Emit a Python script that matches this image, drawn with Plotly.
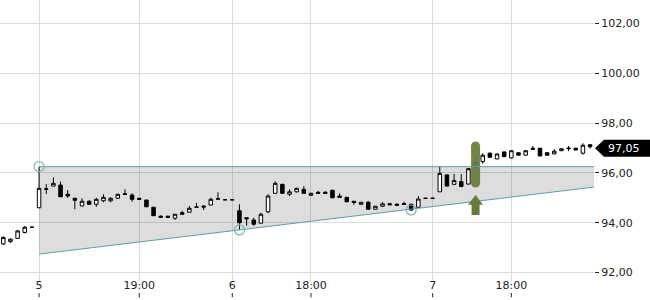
import plotly.graph_objects as go

# ---------------- data ----------------
idx = list(range(83))
opens = [93.15, 93.24, 93.37, 93.61, 93.82, 94.60, 95.34, 95.47, 95.51, 95.14,
         94.98, 94.67, 94.86, 94.74, 94.88, 94.88, 94.98, 95.16, 95.11, 94.98,
         94.91, 94.62, 94.26, 94.26, 94.18, 94.40, 94.42, 94.64, 94.67, 94.71,
         94.96, 94.92, 94.92, 94.48, 94.20, 94.11, 93.98, 94.44, 95.18, 95.54,
         95.14, 95.24, 95.34, 95.10, 95.22, 95.22, 95.30, 95.07, 95.02, 94.86,
         94.74, 94.82, 94.54, 94.66, 94.76, 94.74, 94.76, 94.74, 94.62, 94.98,
         94.98, 95.24, 95.92, 95.54, 95.65, 95.55, 96.22, 96.45, 96.79, 96.56,
         96.84, 96.60, 96.81, 96.71, 96.99, 96.99, 96.81, 96.76, 96.89, 96.97,
         96.99, 96.79, 97.13]
highs = [93.45, 93.37, 93.71, 93.87, 93.82, 96.25, 95.55, 95.82, 95.65, 95.31,
         94.98, 94.98, 94.90, 95.00, 95.14, 95.02, 95.16, 95.34, 95.18, 95.00,
         94.92, 94.63, 94.30, 94.28, 94.35, 94.48, 94.67, 94.80, 94.70, 95.00,
         95.22, 94.92, 94.92, 94.74, 94.21, 94.20, 94.40, 95.14, 95.67, 95.56,
         95.34, 95.40, 95.47, 95.20, 95.28, 95.27, 95.32, 95.18, 95.03, 94.87,
         94.83, 94.87, 94.67, 94.83, 94.80, 94.78, 94.84, 94.76, 95.07, 94.98,
         94.98, 96.25, 95.93, 95.96, 95.95, 96.18, 96.59, 96.79, 96.82, 96.78,
         96.86, 96.90, 96.82, 96.90, 97.08, 97.00, 96.82, 96.95, 96.98, 97.08,
         97.00, 97.19, 97.14]
lows = [93.10, 93.19, 93.37, 93.57, 93.82, 94.58, 95.15, 95.47, 95.04, 95.00,
        94.54, 94.67, 94.72, 94.64, 94.82, 94.82, 94.96, 95.12, 94.84, 94.94,
        94.62, 94.27, 94.22, 94.21, 94.11, 94.34, 94.42, 94.62, 94.51, 94.71,
        94.94, 94.92, 94.92, 93.71, 93.88, 93.88, 93.98, 94.38, 95.18, 95.16,
        95.07, 95.22, 95.18, 95.08, 95.18, 95.18, 95.00, 95.02, 94.83, 94.72,
        94.73, 94.53, 94.53, 94.64, 94.72, 94.70, 94.73, 94.47, 94.62, 94.98,
        94.98, 95.24, 95.46, 95.53, 95.44, 95.54, 96.20, 96.37, 96.60, 96.55,
        96.64, 96.58, 96.70, 96.70, 96.95, 96.67, 96.70, 96.75, 96.88, 96.87,
        96.91, 96.73, 96.97]
closes = [93.41, 93.34, 93.67, 93.82, 93.82, 95.38, 95.36, 95.58, 95.04, 95.07,
          94.90, 94.86, 94.74, 94.94, 95.02, 94.98, 95.14, 95.14, 94.94, 94.94,
          94.64, 94.28, 94.22, 94.22, 94.34, 94.34, 94.58, 94.62, 94.63, 94.94,
          94.95, 94.92, 94.92, 94.00, 94.16, 93.94, 94.34, 95.07, 95.58, 95.18,
          95.24, 95.38, 95.18, 95.18, 95.18, 95.18, 95.00, 95.02, 94.84, 94.82,
          94.82, 94.54, 94.66, 94.76, 94.72, 94.70, 94.74, 94.51, 94.95, 94.98,
          94.98, 95.98, 95.47, 95.69, 95.45, 96.17, 96.41, 96.71, 96.63, 96.76,
          96.65, 96.89, 96.71, 96.89, 96.95, 96.68, 96.71, 96.87, 96.97, 96.99,
          96.92, 97.11, 97.05]

tick_idx = [5, 19, 32, 43, 60, 71]
tick_text = ["5", "19:00", "6", "18:00", "7", "18:00"]
y_ticks = [92, 94, 96, 98, 100, 102]

resist_x = [5, 82.55]
resist_y = [96.25, 96.25]
support_x = [5, 82.55]
support_y = [92.74, 95.43]
touch_x = [5, 33, 57]
touch_y = [96.25, 93.71, 94.51]

signal_x = 66
pill_y = [95.59, 97.08]
arrow_head_y = 94.85
arrow_shaft_y = [94.31, 94.77]

X_RANGE = [-0.46, 82.55]
Y_RANGE = [91.66, 102.94]

# ---------------- figure ----------------
TEAL = "#5f9ea6"
GREEN = "#677c3c"
FONT = "DejaVu Sans"

fig = go.Figure()

# signal pill (under candles)
fig.add_trace(go.Scatter(
    x=[signal_x, signal_x], y=pill_y, mode="lines+markers",
    line=dict(color=GREEN, width=9), marker=dict(color=GREEN, size=9),
    opacity=0.92, hoverinfo="skip", showlegend=False))

fig.add_trace(go.Candlestick(
    x=idx, open=opens, high=highs, low=lows, close=closes,
    increasing=dict(line=dict(color="#000000", width=1), fillcolor="#ffffff"),
    decreasing=dict(line=dict(color="#000000", width=1), fillcolor="#000000"),
    whiskerwidth=0, showlegend=False, hoverinfo="skip"))

# channel lines
fig.add_trace(go.Scatter(x=support_x, y=support_y, mode="lines",
                         line=dict(color=TEAL, width=1), hoverinfo="skip",
                         showlegend=False))
fig.add_trace(go.Scatter(x=resist_x, y=resist_y, mode="lines",
                         line=dict(color=TEAL, width=1), hoverinfo="skip",
                         showlegend=False))
fig.add_trace(go.Scatter(x=touch_x, y=touch_y, mode="markers",
                         marker=dict(size=10, color="rgba(0,0,0,0)",
                                     line=dict(color="#7fb3b8", width=1.2)),
                         hoverinfo="skip", showlegend=False))

# signal arrow
fig.add_trace(go.Scatter(x=[signal_x, signal_x], y=arrow_shaft_y, mode="lines",
                         line=dict(color=GREEN, width=8), hoverinfo="skip",
                         showlegend=False))
fig.add_trace(go.Scatter(x=[signal_x], y=[arrow_head_y], mode="markers",
                         marker=dict(symbol="triangle-up", size=13, color=GREEN),
                         hoverinfo="skip", showlegend=False))

# shaded channel
band_path = (f"M {support_x[0]},{support_y[0]} L {support_x[1]},{support_y[1]} "
             f"L {resist_x[1]},{resist_y[1]} L {resist_x[0]},{resist_y[0]} Z")
shapes = [dict(type="path", path=band_path, xref="x", yref="y",
               fillcolor="rgba(0,0,0,0.135)", line=dict(width=0), layer="between")]

# tick marks below the date labels
for t in tick_idx:
    shapes.append(dict(type="line", xref="x", yref="paper", x0=t, x1=t,
                       y0=-0.043, y1=-0.058, line=dict(color="#222", width=1)))

# last price label
last = closes[-1]
span = Y_RANGE[1] - Y_RANGE[0]
pc = (last - Y_RANGE[0]) / span - 0.005
ph = 0.341 / span
shapes.append(dict(type="path", xref="paper", yref="paper",
                   path=(f"M 1.0017,{pc} L 1.0168,{pc + ph} L 1.1,{pc + ph} "
                         f"L 1.1,{pc - ph} L 1.0168,{pc - ph} Z"),
                   fillcolor="#000000", line=dict(width=0), layer="above"))

fig.update_layout(
    width=650, height=300,
    margin=dict(l=0, r=56, t=0, b=19),
    paper_bgcolor="white", plot_bgcolor="white",
    separators=",.",
    font=dict(family=FONT, size=11, color="#222"),
    shapes=shapes,
    annotations=[dict(xref="paper", yref="paper", x=1.021, y=pc,
                      xanchor="left", yanchor="middle", showarrow=False,
                      text=f"{last:.2f}".replace(".", ","),
                      font=dict(family=FONT, size=11, color="white"))],
    xaxis=dict(range=X_RANGE, tickvals=tick_idx, ticktext=tick_text,
               showgrid=True, gridcolor="#dcdcdc", gridwidth=1,
               zeroline=False, showline=False, ticks="", ticklabelstandoff=-4,
               rangeslider=dict(visible=False), fixedrange=True),
    yaxis=dict(range=Y_RANGE, side="right", tickvals=y_ticks, tickformat=".2f",
               showgrid=True, gridcolor="#dcdcdc", gridwidth=1,
               zeroline=False, showline=False, ticks="outside", ticklen=4,
               tickcolor="#222", fixedrange=True),
)

fig.write_html("out.html", config={"displayModeBar": False})
